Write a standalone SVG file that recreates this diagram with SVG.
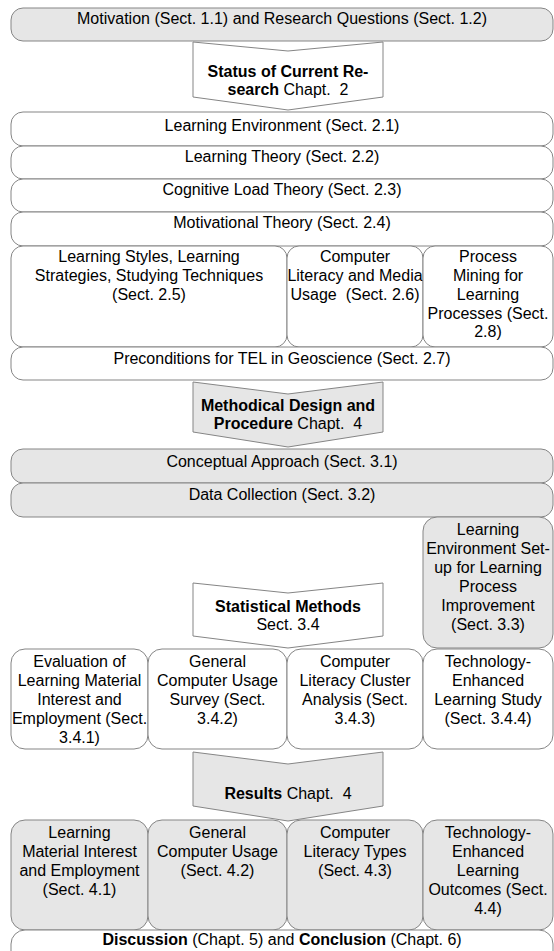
<svg xmlns="http://www.w3.org/2000/svg" width="554" height="951" viewBox="0 0 554 951">
<style>
.b{stroke:#858585;stroke-width:1}
.w{fill:#ffffff}
.g{fill:#e6e6e6}
text{font-family:"Liberation Sans",Arial,sans-serif;font-size:16px;fill:#000;text-anchor:middle;white-space:pre}
.bd{font-weight:bold}
</style>
<rect width="554" height="951" fill="#ffffff"/>
<g id="n-motivation"><rect class="b g" x="11" y="8" width="542" height="33" rx="12"/><text x="282" y="24">Motivation (Sect. 1.1) and Research Questions (Sect. 1.2)</text></g>
<g id="n-status"><polygon class="b w" points="193,42 288,51 383,42 383,97 288,110 193,97"/><text x="288" y="77"><tspan class="bd">Status of Current Re-</tspan></text><text x="288" y="95"><tspan class="bd">search</tspan> Chapt.  2</text></g>
<g id="n-env"><rect class="b w" x="11" y="112" width="542" height="34" rx="12"/><text x="282" y="131">Learning Environment (Sect. 2.1)</text></g>
<g id="n-lt"><rect class="b w" x="11" y="146" width="542" height="33" rx="12"/><text x="282" y="162">Learning Theory (Sect. 2.2)</text></g>
<g id="n-clt"><rect class="b w" x="11" y="179" width="542" height="33" rx="12"/><text x="282" y="195">Cognitive Load Theory (Sect. 2.3)</text></g>
<g id="n-mt"><rect class="b w" x="11" y="212" width="542" height="34" rx="12"/><text x="282" y="228">Motivational Theory (Sect. 2.4)</text></g>
<g id="n-styles"><rect class="b w" x="11" y="246" width="276" height="101" rx="12"/><text x="149" y="262">Learning Styles, Learning</text><text x="149" y="281">Strategies, Studying Techniques</text><text x="149" y="300">(Sect. 2.5)</text></g>
<g id="n-literacy"><rect class="b w" x="287" y="246" width="136" height="101" rx="12"/><text x="355" y="262">Computer</text><text x="355" y="281">Literacy and Media</text><text x="355" y="300">Usage  (Sect. 2.6)</text></g>
<g id="n-mining"><rect class="b w" x="423" y="246" width="130" height="101" rx="12"/><text x="488" y="262">Process</text><text x="488" y="281">Mining for</text><text x="488" y="300">Learning</text><text x="488" y="319">Processes (Sect.</text><text x="488" y="337">2.8)</text></g>
<g id="n-precond"><rect class="b w" x="11" y="347" width="542" height="33" rx="12"/><text x="282" y="364">Preconditions for TEL in Geoscience (Sect. 2.7)</text></g>
<g id="n-method"><polygon class="b g" points="193,382 288,394 383,382 383,432 288,447 193,432"/><text x="288" y="411" class="bd">Methodical Design and</text><text x="288" y="429"><tspan class="bd">Procedure</tspan> Chapt.  4</text></g>
<g id="n-concept"><rect class="b g" x="11" y="449" width="542" height="34" rx="12"/><text x="282" y="467">Conceptual Approach (Sect. 3.1)</text></g>
<g id="n-data"><rect class="b g" x="11" y="483" width="542" height="34" rx="12"/><text x="282" y="500">Data Collection (Sect. 3.2)</text></g>
<g id="n-setup"><rect class="b g" x="423" y="517" width="130" height="131" rx="14"/><text x="488" y="535">Learning</text><text x="488" y="554">Environment Set-</text><text x="488" y="573">up for Learning</text><text x="488" y="592">Process</text><text x="488" y="611">Improvement</text><text x="488" y="630">(Sect. 3.3)</text></g>
<g id="n-stat"><polygon class="b w" points="193,583 288,593 383,583 383,636 288,648 193,636"/><text x="288" y="612" class="bd">Statistical Methods</text><text x="288" y="630">Sect. 3.4</text></g>
<g id="n-eval"><rect class="b w" x="11" y="649" width="137" height="100" rx="14"/><text x="79.5" y="667">Evaluation of</text><text x="79.5" y="686">Learning Material</text><text x="79.5" y="705">Interest and</text><text x="79.5" y="724">Employment (Sect.</text><text x="79.5" y="743">3.4.1)</text></g>
<g id="n-survey"><rect class="b w" x="148" y="649" width="139" height="100" rx="14"/><text x="217.5" y="667">General</text><text x="217.5" y="686">Computer Usage</text><text x="217.5" y="705">Survey (Sect.</text><text x="217.5" y="724">3.4.2)</text></g>
<g id="n-cluster"><rect class="b w" x="287" y="649" width="136" height="100" rx="14"/><text x="355" y="667">Computer</text><text x="355" y="686">Literacy Cluster</text><text x="355" y="705">Analysis (Sect.</text><text x="355" y="724">3.4.3)</text></g>
<g id="n-tel"><rect class="b w" x="423" y="649" width="130" height="100" rx="14"/><text x="488" y="667">Technology-</text><text x="488" y="686">Enhanced</text><text x="488" y="705">Learning Study</text><text x="488" y="724">(Sect. 3.4.4)</text></g>
<g id="n-results"><polygon class="b g" points="193,752 288,764 383,752 383,806 288,821 193,806"/><text x="288" y="799"><tspan class="bd">Results</tspan> Chapt.  4</text></g>
<g id="n-r1"><rect class="b g" x="11" y="820" width="137" height="110" rx="14"/><text x="79.5" y="838">Learning</text><text x="79.5" y="857">Material Interest</text><text x="79.5" y="876">and Employment</text><text x="79.5" y="895">(Sect. 4.1)</text></g>
<g id="n-r2"><rect class="b g" x="148" y="820" width="139" height="110" rx="14"/><text x="217.5" y="838">General</text><text x="217.5" y="857">Computer Usage</text><text x="217.5" y="876">(Sect. 4.2)</text></g>
<g id="n-r3"><rect class="b g" x="287" y="820" width="136" height="110" rx="14"/><text x="355" y="838">Computer</text><text x="355" y="857">Literacy Types</text><text x="355" y="876">(Sect. 4.3)</text></g>
<g id="n-r4"><rect class="b g" x="423" y="820" width="130" height="110" rx="14"/><text x="488" y="838">Technology-</text><text x="488" y="857">Enhanced</text><text x="488" y="876">Learning</text><text x="488" y="895">Outcomes (Sect.</text><text x="488" y="914">4.4)</text></g>
<g id="n-discussion"><rect class="b w" x="11" y="930" width="542" height="40" rx="14"/><text x="282" y="945"><tspan class="bd">Discussion</tspan> (Chapt. 5) and <tspan class="bd">Conclusion</tspan> (Chapt. 6)</text></g>
<g id="connectors"></g>
</svg>
